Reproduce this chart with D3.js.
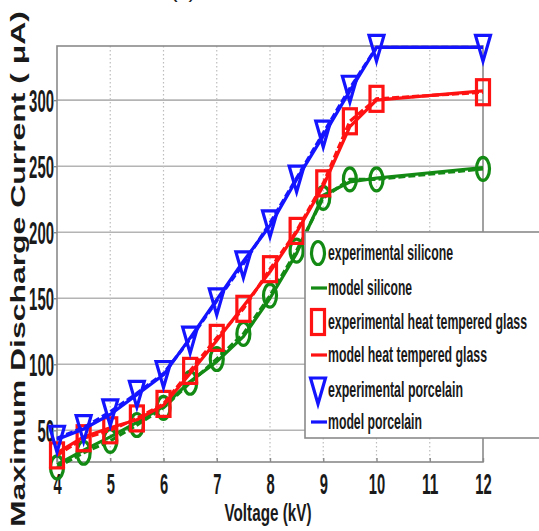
<!DOCTYPE html>
<html>
<head>
<meta charset="utf-8">
<script src="https://cdn.jsdelivr.net/npm/d3@7/dist/d3.min.js"></script>
<style>
  html, body { margin: 0; padding: 0; background: #fff; }
  svg { display: block; }
  text { fill: #1a1a1a; }
</style>
</head>
<body>
<script>
// Maximum discharge current vs applied voltage for three insulator materials
const voltages = [4, 4.5, 5, 5.5, 6, 6.5, 7, 7.5, 8, 8.5, 9, 9.5, 10, 12];

const siliconeExp   = [22, 33, 42, 54, 67, 86, 104, 123, 152, 186, 226, 240, 240, 248];
const siliconeModel = [24, 35, 45, 56, 68, 87, 102, 121, 150, 184, 228, 238, 241, 249];
const glassExp      = [31, 44, 50, 59, 70, 95, 120, 142, 172, 201, 237, 284, 301, 306];
const glassModel    = [33, 45, 52, 58, 69, 93, 118, 144, 170, 200, 235, 280, 300, 307];
const porcelainExp  = [44, 52, 64, 78, 93, 119, 148, 176, 207, 241, 275, 309, 340, 340];
const porcelainModel= [43, 51, 62, 77, 92, 120, 149, 178, 205, 240, 273, 307, 340, 340];

const xTicks = [4, 5, 6, 7, 8, 9, 10, 11, 12];
const yTicks = [50, 100, 150, 200, 250, 300];

const legendLabels = [
  "experimental silicone",
  "model silicone",
  "experimental heat tempered glass",
  "model heat tempered glass",
  "experimental porcelain",
  "model porcelain"
];

const W = 539, H = 531;
const plot = { left: 57, right: 483, top: 46, bottom: 462 };

const svg = d3.select("body").append("svg")
  .attr("width", W).attr("height", H);

const x = d3.scaleLinear().domain([4, 12]).range([plot.left, plot.right]);
const y = d3.scaleLinear().domain([26, 341]).range([plot.bottom, plot.top]);

const narrow = "'Liberation Sans Narrow', 'Liberation Sans', Arial, sans-serif";

// figure tag at the very top, mostly above the page edge
svg.append("text")
  .attr("x", 183).attr("y", -3)
  .attr("text-anchor", "middle")
  .attr("font-family", narrow).attr("font-size", 22)
  .attr("fill", "#999")
  .text("(c)");

// grid
const grid = svg.append("g");
grid.selectAll("line.h").data(yTicks).join("line")
  .attr("x1", plot.left).attr("x2", plot.right)
  .attr("y1", d => y(d)).attr("y2", d => y(d))
  .attr("stroke", "#b4b4b4").attr("stroke-width", 1.6);
grid.selectAll("line.v").data(xTicks.slice(1, -1)).join("line")
  .attr("x1", d => x(d)).attr("x2", d => x(d))
  .attr("y1", plot.top).attr("y2", plot.bottom)
  .attr("stroke", "#bdbdbd").attr("stroke-width", 1.2)
  .attr("stroke-dasharray", "1.5,2.5");

// axes box
svg.append("rect")
  .attr("x", plot.left).attr("y", plot.top)
  .attr("width", plot.right - plot.left).attr("height", plot.bottom - plot.top)
  .attr("fill", "none").attr("stroke", "#8a8a8a").attr("stroke-width", 1.6);

// axes built from d3 axis generators, then restyled
const xAxis = svg.append("g")
  .attr("transform", `translate(0,${plot.bottom})`)
  .call(d3.axisBottom(x).tickValues(xTicks).tickSize(-4).tickPadding(0).tickFormat(d3.format("d")));
xAxis.select(".domain").remove();
xAxis.selectAll(".tick line").attr("stroke", "#8a8a8a").attr("stroke-width", 1.4);
xAxis.selectAll(".tick text")
  .attr("y", 32).attr("dy", null)
  .attr("font-family", narrow).attr("font-weight", "bold").attr("font-size", 30)
  .attr("fill", "#1a1a1a")
  .each(function(d) {
    const n = String(d).length;
    d3.select(this).attr("textLength", n * 8.2).attr("lengthAdjust", "spacingAndGlyphs");
  });

const yAxis = svg.append("g")
  .attr("transform", `translate(${plot.left},0)`)
  .call(d3.axisLeft(y).tickValues(yTicks).tickSize(3).tickPadding(0).tickFormat(d3.format("d")));
yAxis.select(".domain").remove();
yAxis.selectAll(".tick line").attr("stroke", "#8a8a8a").attr("stroke-width", 1.4);
yAxis.selectAll(".tick text")
  .attr("x", -3).attr("dy", null).attr("y", 11.5)
  .attr("font-family", narrow).attr("font-weight", "bold").attr("font-size", 32)
  .attr("fill", "#1a1a1a")
  .each(function(d) {
    const n = String(d).length;
    d3.select(this).attr("textLength", n * 8.3).attr("lengthAdjust", "spacingAndGlyphs");
  });

// axis titles
svg.append("text")
  .attr("x", 268).attr("y", 521)
  .attr("text-anchor", "middle")
  .attr("font-family", narrow).attr("font-weight", "bold").attr("font-size", 23)
  .attr("textLength", 87).attr("lengthAdjust", "spacingAndGlyphs")
  .text("Voltage (kV)");

svg.append("text")
  .attr("transform", "translate(25,269) rotate(-90)")
  .attr("text-anchor", "middle")
  .attr("font-family", "'Liberation Sans', Arial, sans-serif")
  .attr("font-weight", "bold").attr("font-size", 20)
  .attr("textLength", 516).attr("lengthAdjust", "spacingAndGlyphs")
  .text("Maximum Discharge Current ( μA)");

// series
const series = [
  { exp: siliconeExp,  model: siliconeModel,  color: "#138a13", marker: "circle" },
  { exp: glassExp,     model: glassModel,     color: "#ff1212", marker: "square" },
  { exp: porcelainExp, model: porcelainModel, color: "#1414ff", marker: "triangle" }
];

const line = d3.line().x(d => x(d[0])).y(d => y(d[1]));

function drawMarker(g, kind, cx, cy, color) {
  if (kind === "circle") {
    g.append("ellipse").attr("cx", cx).attr("cy", cy).attr("rx", 6.5).attr("ry", 11.5)
      .attr("fill", "none").attr("stroke", color).attr("stroke-width", 3.2);
  } else if (kind === "square") {
    g.append("rect").attr("x", cx - 6.5).attr("y", cy - 12.5).attr("width", 13).attr("height", 25)
      .attr("fill", "none").attr("stroke", color).attr("stroke-width", 3.2);
  } else {
    g.append("path")
      .attr("d", `M${cx - 7.5},${cy - 12} L${cx + 7.5},${cy - 12} L${cx},${cy + 14} Z`)
      .attr("fill", "none").attr("stroke", color).attr("stroke-width", 3.2)
      .attr("stroke-linejoin", "miter");
  }
}

const marks = svg.append("g");
series.forEach(s => {
  const modelPts = voltages.map((v, i) => [v, s.model[i]]);
  const expPts = voltages.map((v, i) => [v, s.exp[i]]);
  marks.append("path").datum(modelPts).attr("d", line)
    .attr("fill", "none").attr("stroke", s.color).attr("stroke-width", 3.2)
    .attr("stroke-linejoin", "round");
  marks.append("path").datum(expPts).attr("d", line)
    .attr("fill", "none").attr("stroke", s.color).attr("stroke-width", 3.2)
    .attr("stroke-dasharray", "7,3");
  const mg = marks.append("g");
  expPts.forEach(p => drawMarker(mg, s.marker, x(p[0]), y(p[1]), s.color));
});

// legend, running past the right edge of the page
const legend = svg.append("g");
legend.append("rect")
  .attr("x", 305).attr("y", 232).attr("width", 260).attr("height", 206)
  .attr("fill", "#fff").attr("stroke", "#8a8a8a").attr("stroke-width", 1.6);

const rowY = [253, 288, 322, 355, 390, 422];
const textLen = [125, 84, 199, 159, 135, 94];
legendLabels.forEach((label, i) => {
  const s = series[Math.floor(i / 2)];
  const cy = rowY[i];
  if (i % 2 === 0) {
    drawMarker(legend, s.marker, 318, cy, s.color);
  } else {
    legend.append("line").attr("x1", 311).attr("x2", 327).attr("y1", cy).attr("y2", cy)
      .attr("stroke", s.color).attr("stroke-width", 3.2);
  }
  // tall, condensed lettering: small font stretched vertically
  legend.append("text")
    .attr("transform", `translate(328,${cy + 7}) scale(1,2)`)
    .attr("x", 0).attr("y", 0)
    .attr("font-family", narrow).attr("font-weight", "bold").attr("font-size", 11)
    .attr("fill", "#222")
    .attr("textLength", textLen[i]).attr("lengthAdjust", "spacingAndGlyphs")
    .text(label);
});
</script>
</body>
</html>
